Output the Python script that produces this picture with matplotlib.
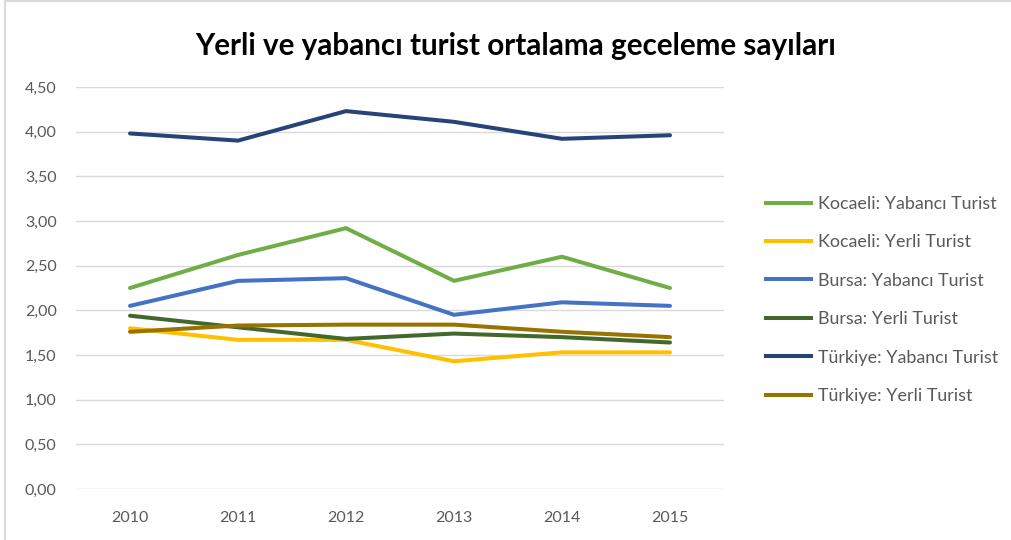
import matplotlib.pyplot as plt
from matplotlib.lines import Line2D
from matplotlib.ticker import FuncFormatter

years = [2010, 2011, 2012, 2013, 2014, 2015]

kocaeli_yabanci = [2.25, 2.62, 2.92, 2.33, 2.60, 2.25]
kocaeli_yerli = [1.80, 1.67, 1.67, 1.43, 1.53, 1.53]
bursa_yabanci = [2.05, 2.33, 2.36, 1.95, 2.09, 2.05]
bursa_yerli = [1.94, 1.81, 1.68, 1.74, 1.70, 1.64]
turkiye_yabanci = [3.98, 3.90, 4.23, 4.11, 3.92, 3.96]
turkiye_yerli = [1.76, 1.83, 1.84, 1.84, 1.76, 1.70]

labels = ["Kocaeli: Yabancı Turist", "Kocaeli: Yerli Turist",
          "Bursa: Yabancı Turist", "Bursa: Yerli Turist",
          "Türkiye: Yabancı Turist", "Türkiye: Yerli Turist"]
colors = ["#70AD47", "#FFC000", "#4472C4", "#43682B", "#264478", "#997300"]

plt.rcParams['font.family'] = ['Lato', 'DejaVu Sans']

fig = plt.figure(figsize=(10.11, 5.4), dpi=100)
ax = fig.add_axes([0.0752, 0.0944, 0.7161 - 0.0752, 0.8389 - 0.0944])

series = [kocaeli_yabanci, kocaeli_yerli, bursa_yabanci,
          bursa_yerli, turkiye_yabanci, turkiye_yerli]
for vals, lab, col in zip(series, labels, colors):
    ax.plot(years, vals, color=col, lw=2.9, label=lab, solid_capstyle='round')

ax.set_xlim(2009.5, 2015.5)
ax.set_ylim(0, 4.5)
ax.set_yticks([i * 0.5 for i in range(10)])
ax.yaxis.set_major_formatter(FuncFormatter(lambda v, p: f"{v:.2f}".replace(".", ",")))
ax.set_xticks(years)
ax.grid(axis='y', color='#D9D9D9', lw=1)
ax.set_axisbelow(True)
for s in ax.spines.values():
    s.set_visible(False)
ax.tick_params(length=0, labelsize=11.5, colors='#595959')
ax.tick_params(axis='x', pad=16)
ax.tick_params(axis='y', pad=14)

fig.text(0.51, 0.915, "Yerli ve yabancı turist ortalama geceleme sayıları",
         ha='center', va='center', fontsize=21.3, fontweight='bold', color='black')

handles = [Line2D([0], [0], color=c, lw=2.9) for c in colors]
fig.legend(handles, labels, loc='upper left', bbox_to_anchor=(0.742, 0.667),
           frameon=False, fontsize=12.9, labelcolor='#595959',
           handlelength=2.5, handletextpad=0.4, labelspacing=1.25)

# chart border (left and top visible in reference)
fig.add_artist(Line2D([0.005, 0.005], [0, 0.998], color='#D9D9D9', lw=1.5))
fig.add_artist(Line2D([0.005, 1], [0.998, 0.998], color='#D9D9D9', lw=1.5))

fig.savefig("out.png", dpi=100)
